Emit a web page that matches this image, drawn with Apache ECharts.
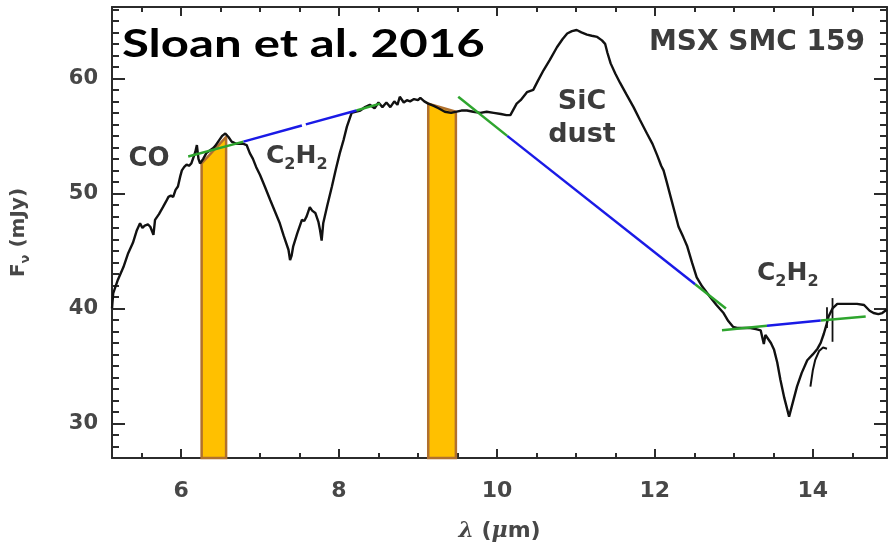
<!DOCTYPE html>
<html>
<head>
<meta charset="utf-8">
<script src="https://cdn.jsdelivr.net/npm/echarts@6/dist/echarts.min.js"></script>
<style>html,body{margin:0;padding:0;background:#fff}#c{width:890px;height:548px}</style>
</head>
<body>
<div id="c"></div>
<script>
// ---- axis ranges & ticks ----
var xMin = 5.125, xMax = 14.94;
var yMin = 27.0, yMax = 66.2;
var xMajorTicks = [6, 8, 10, 12, 14];
var xMinorTicks = [5.5, 6.5, 7, 7.5, 8.5, 9, 9.5, 10.5, 11, 11.5, 12.5, 13, 13.5, 14.5];
var yMajorTicks = [30, 40, 50, 60];
var yMinorTicks = [28, 29, 31, 32, 33, 34, 35, 36, 37, 38, 39, 41, 42, 43, 44, 45, 46, 47, 48, 49, 51, 52, 53, 54, 55, 56, 57, 58, 59, 61, 62, 63, 64, 65, 66];

// ---- spectrum (wavelength in micron, flux in mJy) ----
var specX = [5.125,5.14,5.20,5.27,5.33,5.39,5.44,5.48,5.51,5.54,5.58,5.61,5.65,5.67,5.72,5.77,5.81,5.84,5.87,5.90,5.93,5.96,5.99,6.01,6.04,6.07,6.10,6.13,6.16,6.18,6.20,6.22,6.24,6.28,6.32,6.36,6.40,6.43,6.47,6.52,6.56,6.60,6.64,6.70,6.75,6.79,6.83,6.87,6.91,6.95,7.00,7.06,7.13,7.19,7.25,7.30,7.36,7.38,7.40,7.42,7.47,7.53,7.56,7.59,7.63,7.66,7.70,7.74,7.76,7.78,7.80,7.85,7.91,7.96,8.01,8.06,8.10,8.16,8.22,8.27,8.33,8.39,8.45,8.50,8.55,8.60,8.65,8.70,8.74,8.77,8.82,8.86,8.90,8.95,9.00,9.03,9.08,9.13,9.20,9.26,9.34,9.42,9.49,9.55,9.62,9.70,9.79,9.87,9.96,10.05,10.12,10.17,10.21,10.25,10.30,10.38,10.46,10.52,10.59,10.67,10.76,10.83,10.89,10.95,11.01,11.07,11.14,11.20,11.27,11.33,11.37,11.40,11.44,11.50,11.56,11.64,11.73,11.81,11.90,11.97,12.03,12.08,12.11,12.15,12.20,12.25,12.30,12.36,12.41,12.47,12.53,12.60,12.70,12.78,12.87,12.93,12.99,13.04,13.12,13.21,13.28,13.34,13.38,13.40,13.42,13.47,13.51,13.55,13.59,13.64,13.70,13.75,13.80,13.86,13.93,14.00,14.06,14.10,14.14,14.17,14.20,14.25,14.31,14.40,14.48,14.56,14.65,14.72,14.77,14.83,14.88,14.94];
var specY = [40.0,41.3,42.5,43.6,44.8,45.7,46.8,47.4,47.0,47.2,47.3,47.1,46.4,47.7,48.2,48.8,49.3,49.7,49.8,49.7,50.3,50.6,51.5,52.0,52.3,52.5,52.4,52.6,53.2,53.6,54.2,53.0,52.6,53.0,53.5,53.7,53.9,54.1,54.5,55.0,55.2,54.9,54.5,54.3,54.3,54.3,54.2,53.5,53.0,52.3,51.6,50.6,49.4,48.4,47.4,46.3,45.1,44.2,44.6,45.4,46.5,47.7,47.6,48.0,48.8,48.5,48.3,47.5,46.8,45.9,47.4,48.9,50.6,52.1,53.5,54.7,55.8,57.0,57.1,57.2,57.5,57.7,57.4,57.9,57.5,57.9,57.5,58.0,57.7,58.4,57.9,58.1,58.0,58.2,58.1,58.3,58.0,57.8,57.6,57.4,57.1,57.0,57.1,57.2,57.2,57.1,57.0,57.1,57.0,56.9,56.8,56.8,57.3,57.8,58.1,58.8,59.0,59.8,60.7,61.6,62.7,63.4,63.9,64.1,64.2,64.0,63.8,63.7,63.6,63.3,63.0,62.2,61.3,60.4,59.6,58.6,57.5,56.4,55.2,54.3,53.3,52.4,52.0,51.0,49.7,48.4,47.1,46.2,45.4,44.0,42.7,41.9,41.0,40.3,39.6,38.9,38.4,38.3,38.3,38.3,38.2,38.1,36.9,37.7,37.5,37.0,36.4,35.3,33.8,32.2,30.6,31.9,33.2,34.4,35.5,36.0,36.5,37.0,37.8,38.5,39.3,40.0,40.4,40.4,40.4,40.4,40.3,39.8,39.6,39.5,39.6,39.9];

// overlapping short spectral segment near 14 micron
var seg2X = [13.97, 14.00, 14.03, 14.08, 14.13, 14.18];
var seg2Y = [33.2, 34.6, 35.5, 36.3, 36.6, 36.5];

// vertical error marks
var errX  = [14.18, 14.25];
var errLo = [38.3, 37.1];
var errHi = [40.1, 40.9];

// continuum fits: green (fit region) and blue (interpolated) pieces
var greenSegs = [
  [[6.09, 53.2], [6.79, 54.5]],
  [[8.22, 57.2], [8.52, 57.8]],
  [[9.51, 58.4], [10.13, 55.0]],
  [[12.51, 42.1], [12.90, 40.0]],
  [[12.85, 38.1], [13.42, 38.5]],
  [[14.10, 38.95], [14.67, 39.3]]
];
var blueSegs = [
  [[6.79, 54.5], [7.53, 55.9]],
  [[7.58, 56.0], [8.22, 57.2]],
  [[10.13, 55.0], [12.51, 42.1]],
  [[13.42, 38.5], [14.10, 38.95]]
];

// orange bands: left edge, right edge, top at left, top at right
var bandLeft  = [6.26, 9.13];
var bandRight = [6.57, 9.48];
var bandTopL  = [52.6, 57.8];
var bandTopR  = [54.9, 57.1];

// ---------------------------------------------------------------
var AX = '#2b2b2b', LBL = '#474747';
var chart = echarts.init(document.getElementById('c'), null, {renderer: 'canvas'});

function xAx(pos, ticks, len, showLine, labels) {
  return {
    type: 'value', min: xMin, max: xMax, position: pos,
    axisLine: {show: showLine, onZero: false, lineStyle: {color: AX, width: 2}},
    axisTick: {show: true, inside: true, length: len, customValues: ticks, lineStyle: {color: AX, width: 2}},
    axisLabel: labels ? {customValues: ticks, margin: 22, color: LBL, fontSize: 22, fontWeight: 'bold', fontFamily: 'DejaVu Sans'} : {show: false},
    splitLine: {show: false}
  };
}
function yAx(pos, ticks, len, showLine, labels) {
  return {
    type: 'value', min: yMin, max: yMax, position: pos,
    axisLine: {show: showLine, onZero: false, lineStyle: {color: AX, width: 2}},
    axisTick: {show: true, inside: true, length: len, customValues: ticks, lineStyle: {color: AX, width: 2}},
    axisLabel: labels ? {customValues: ticks, margin: 14, color: LBL, fontSize: 21, fontWeight: 'bold', fontFamily: 'DejaVu Sans'} : {show: false},
    splitLine: {show: false}
  };
}

var xAxes = [xAx('bottom', xMajorTicks, 9, true, true), xAx('bottom', xMinorTicks, 5, false, false),
             xAx('top', xMajorTicks, 9, true, false), xAx('top', xMinorTicks, 5, false, false)];
xAxes[0].name = '{l|λ} ({l|μ}m)';
xAxes[0].nameLocation = 'middle';
xAxes[0].nameGap = 62;
xAxes[0].nameTextStyle = {color: LBL, fontSize: 22, fontWeight: 'bold', fontFamily: 'DejaVu Sans',
  rich: {l: {color: LBL, fontSize: 22, fontStyle: 'italic', fontFamily: 'DejaVu Serif'}}};

var yAxes = [yAx('left', yMajorTicks, 13, true, true), yAx('left', yMinorTicks, 7, false, false),
             yAx('right', yMajorTicks, 13, true, false), yAx('right', yMinorTicks, 7, false, false)];
yAxes[0].name = 'F{s|ν} (mJy)';
yAxes[0].nameLocation = 'middle';
yAxes[0].nameGap = 80;
yAxes[0].nameTextStyle = {color: LBL, fontSize: 20, fontWeight: 'bold', fontFamily: 'DejaVu Sans',
  rich: {s: {color: LBL, fontSize: 13, fontWeight: 'bold', fontFamily: 'DejaVu Sans', verticalAlign: 'bottom', lineHeight: 27}}};

var series = [];
series.push({
  type: 'custom', xAxisIndex: 0, yAxisIndex: 0, z: 1,
  data: bandLeft.map(function (x, i) { return [x, bandRight[i], bandTopL[i], bandTopR[i]]; }),
  renderItem: function (params, api) {
    var a = api.coord([api.value(0), yMin]), b = api.coord([api.value(0), api.value(2)]);
    var c = api.coord([api.value(1), api.value(3)]), d = api.coord([api.value(1), yMin]);
    return {type: 'polygon', shape: {points: [a, b, c, d]}, style: {fill: '#FFC000', stroke: '#B0702E', lineWidth: 2.5}};
  }
});
series.push({
  type: 'line', xAxisIndex: 0, yAxisIndex: 0, z: 3, showSymbol: false, symbol: 'none',
  data: specX.map(function (x, i) { return [x, specY[i]]; }),
  lineStyle: {color: '#111', width: 2.4}
});
series.push({
  type: 'line', xAxisIndex: 0, yAxisIndex: 0, z: 3, symbol: 'none',
  data: seg2X.map(function (x, i) { return [x, seg2Y[i]]; }),
  lineStyle: {color: '#111', width: 2}
});
errX.forEach(function (x, i) {
  series.push({type: 'line', xAxisIndex: 0, yAxisIndex: 0, z: 3, symbol: 'none',
    data: [[x, errLo[i]], [x, errHi[i]]], lineStyle: {color: '#111', width: 1.8}});
});
greenSegs.forEach(function (s) {
  series.push({type: 'line', xAxisIndex: 0, yAxisIndex: 0, z: 4, symbol: 'none', data: s,
    lineStyle: {color: '#2EA52E', width: 2.5}});
});
blueSegs.forEach(function (s) {
  series.push({type: 'line', xAxisIndex: 0, yAxisIndex: 0, z: 4, symbol: 'none', data: s,
    lineStyle: {color: '#1A1AE6', width: 2.5}});
});

var TXT = '#3c3c3c';
var subRich = function (fs) {
  return {
    m: {fill: TXT, fontSize: fs, fontWeight: 'bold', fontFamily: 'DejaVu Sans', lineHeight: 34, verticalAlign: 'middle'},
    s: {fill: TXT, fontSize: Math.round(fs * 0.62), fontWeight: 'bold', fontFamily: 'DejaVu Sans', lineHeight: 34, verticalAlign: 'bottom'}
  };
};

var option = {
  animation: false,
  backgroundColor: '#fff',
  grid: {left: 112, right: 3, top: 7, bottom: 90, containLabel: false},
  xAxis: xAxes,
  yAxis: yAxes,
  series: series,
  graphic: [
    {type: 'text', x: 122, y: 44, scaleX: 1.26, scaleY: 1, z: 10,
      style: {text: 'Sloan et al. 2016', fill: '#000', font: 'bold 39px Lato', align: 'left', verticalAlign: 'middle'}},
    {type: 'text', x: 757, y: 43, z: 10, style: {text: 'MSX SMC 159', fill: TXT, font: 'bold 28px "DejaVu Sans"', align: 'center', verticalAlign: 'middle'}},
    {type: 'text', x: 149, y: 159, z: 10, style: {text: 'CO', fill: TXT, font: 'bold 26px "DejaVu Sans"', align: 'center', verticalAlign: 'middle'}},
    {type: 'text', x: 266, y: 156, z: 10, style: {text: '{m|C}{s|2}{m|H}{s|2}', align: 'left', verticalAlign: 'middle', rich: subRich(25)}},
    {type: 'text', x: 582, y: 118, z: 10, style: {text: 'SiC\ndust', fill: TXT, font: 'bold 27px "DejaVu Sans"', align: 'center', verticalAlign: 'middle', lineHeight: 33}},
    {type: 'text', x: 757, y: 273, z: 10, style: {text: '{m|C}{s|2}{m|H}{s|2}', align: 'left', verticalAlign: 'middle', rich: subRich(25)}}
  ]
};
chart.setOption(option);
</script>
</body>
</html>
